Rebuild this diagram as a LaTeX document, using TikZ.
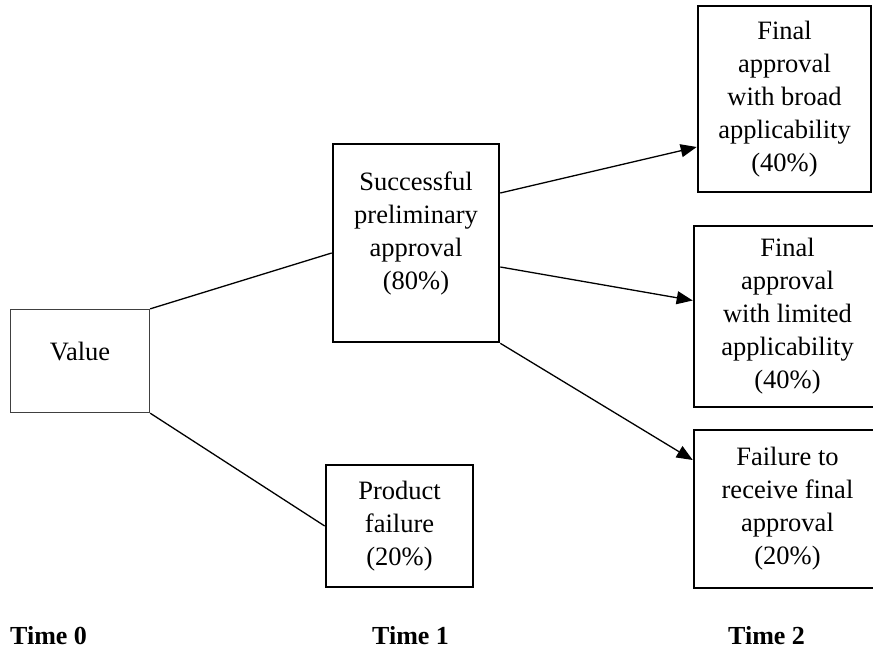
\documentclass[tikz,border=0pt]{standalone}
\usepackage{fontspec}
\setmainfont{Liberation Serif}
\usetikzlibrary{arrows.meta,positioning}

\begin{document}
\begin{tikzpicture}[x=1pt, y=-1pt, font=\fontsize{26.5}{33}\selectfont,
  every node/.style={align=center},
  box/.style={draw, line width=2.6pt, inner sep=0pt},
  thinbox/.style={draw=black!75, line width=1.3pt, inner sep=0pt},
  link/.style={line width=1.3pt},
  timelabel/.style={font=\fontsize{26}{30}\selectfont\bfseries, anchor=base west, inner sep=0pt},
  >={Triangle[length=16pt,width=13pt]}]
  \useasboundingbox (0,0) rectangle (873,650);
  % Boxes
  \node[thinbox, minimum width=139pt, minimum height=103pt, text depth=20pt] (val) at (80,361) {Value};
  \node[box, minimum width=166pt, minimum height=198pt, text depth=24pt] (spa) at (416,243) {Successful\\preliminary\\approval\\(80\%)};
  \node[box, minimum width=147pt, minimum height=122pt] (pf) at (399.5,526) {Product\\failure\\(20\%)};
  \node[box, minimum width=173pt, minimum height=186pt] (fa) at (784.5,99) {Final\\approval\\with broad\\applicability\\(40\%)};
  \node[box, minimum width=187pt, minimum height=181pt] (fb) at (787.5,316.5) {Final\\approval\\with limited\\applicability\\(40\%)};
  \node[box, minimum width=187pt, minimum height=158pt] (fc) at (787.5,509) {Failure to\\receive final\\approval\\(20\%)};

  % Time axis
  \node[timelabel] (t0) at (10,644) {Time 0};
  \node[timelabel] (t1) at (372,644) {Time 1};
  \node[timelabel] (t2) at (728,644) {Time 2};

  % Lines
  \draw[link] (val.north east) -- ([yshift=-10pt]spa.west);
  \draw[link] (val.south east) -- (pf.west);
  \draw[link, ->] ([yshift=50pt]spa.east) -- ([yshift=-48pt]fa.west);
  \draw[link, ->] ([yshift=-24pt]spa.east) -- ([yshift=16pt]fb.west);
  \draw[link, ->] (spa.south east) -- ([yshift=49pt]fc.west);
\end{tikzpicture}
\end{document}
